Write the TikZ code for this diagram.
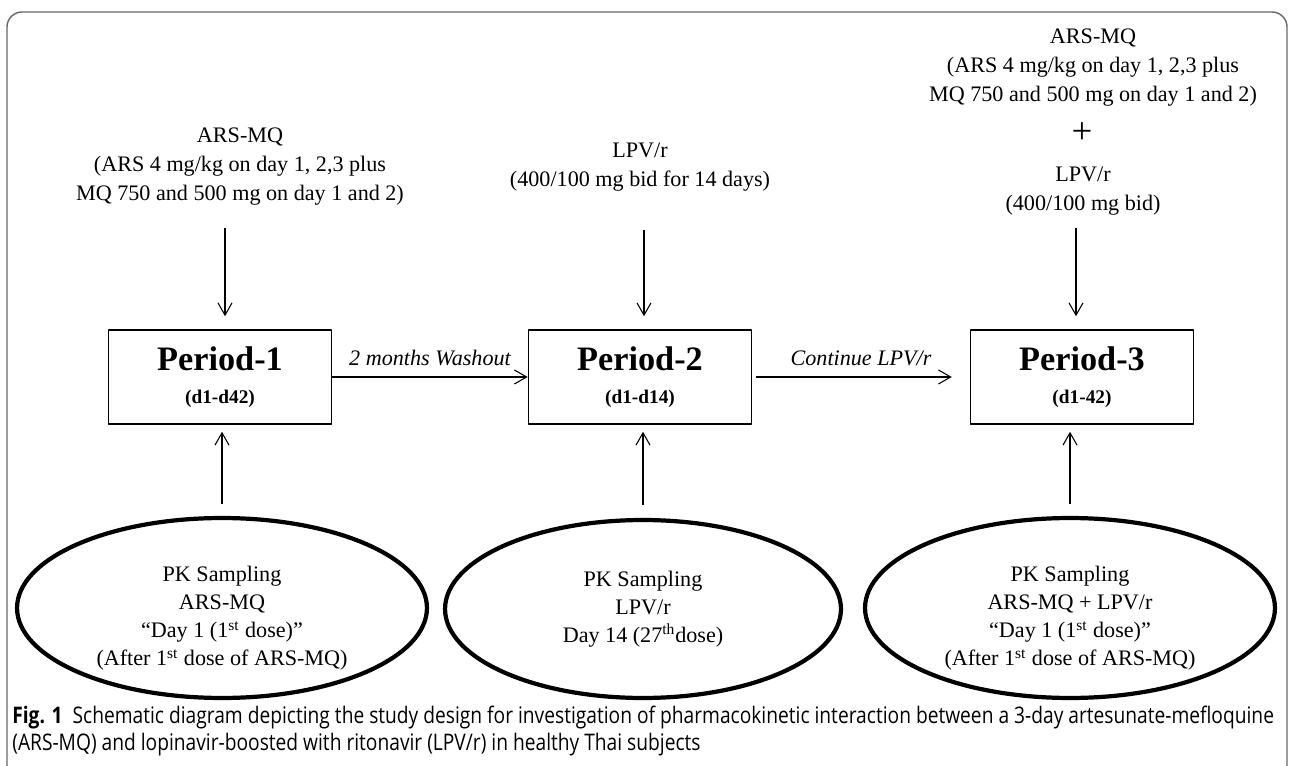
\documentclass[tikz,border=0pt]{standalone}
\usepackage{fontspec}
\setmainfont{Liberation Serif}
\newfontfamily\capfont[FakeStretch=0.84]{Open Sans}
\usetikzlibrary{arrows.meta,shapes.geometric}
\newcommand\lowered[1]{\raisebox{-0.2cm}[\height][\depth]{\begin{tabular}{@{}c@{}}#1\end{tabular}}}
\begin{document}
\begin{tikzpicture}[x=0.02cm,y=-0.02cm,>={Straight Barb[length=7pt,width=8pt]},line join=round,
		dose/.style={align=center,font=\fontsize{12.6}{16.5}\selectfont,inner sep=0pt},
		period/.style={draw,line width=0.9pt,minimum width=4.46cm,minimum height=1.88cm,align=center,font=\bfseries\fontsize{11}{18.8}\selectfont},
		sampling/.style={draw,ellipse,line width=2.4pt,minimum width=8.2cm,minimum height=3.6cm,inner sep=0pt,align=center,font=\fontsize{12.6}{16}\selectfont},
		flow/.style={->,line width=0.6pt}]
	\useasboundingbox (0,0) rectangle (1290,766);
	\draw[black!60,line width=0.8pt,rounded corners=0.3cm] (7,12) rectangle (1287,780);
	% doses given in each period
	\node[dose] (dose1) at (240,167) {ARS-MQ\\(ARS 4 mg/kg on day 1, 2,3 plus\\MQ 750 and 500 mg on day 1 and 2)};
	\node[dose] (dose2) at (640,167) {LPV/r\\(400/100 mg bid for 14 days)};
	\node[dose] (dose3) at (1093,68) {ARS-MQ\\(ARS 4 mg/kg on day 1, 2,3 plus\\MQ 750 and 500 mg on day 1 and 2)};
	\node[dose,font=\fontsize{21}{21}\selectfont] (plus) at (1082,133) {+};
	\node[dose] (lpv3) at (1083,191) {LPV/r\\(400/100 mg bid)};
	% periods
	\node[period] (p1) at (220,377) {{\fontsize{19.5}{18.8}\selectfont Period-1}\\(d1-d42)};
	\node[period] (p2) at (640,377) {{\fontsize{19.5}{18.8}\selectfont Period-2}\\(d1-d14)};
	\node[period] (p3) at (1082,377) {{\fontsize{19.5}{18.8}\selectfont Period-3}\\(d1-42)};
	% PK sampling
	\node[sampling] (s1) at (222,608) {\lowered{PK Sampling\\ARS-MQ\\“Day 1 (1\textsuperscript{st} dose)”\\(After 1\textsuperscript{st} dose of ARS-MQ)}};
	\node[sampling,minimum width=7.92cm,minimum height=3.56cm] (s2) at (643,609) {PK Sampling\\LPV/r\\Day 14 (27\textsuperscript{th}dose)};
	\node[sampling] (s3) at (1070,608) {\lowered{PK Sampling\\ARS-MQ + LPV/r\\“Day 1 (1\textsuperscript{st} dose)”\\(After 1\textsuperscript{st} dose of ARS-MQ)}};
	\coordinate (a1) at (225,228);
	\coordinate (a2) at (644,230);
	\coordinate (a3) at (1076,228);
	\draw[flow,shorten >=0.26cm] (a1) -- (a1 |- p1.north);
	\draw[flow,shorten >=0.26cm] (a2) -- (a2 |- p2.north);
	\draw[flow,shorten >=0.26cm] (a3) -- (a3 |- p3.north);
	\draw[flow] (p1.east) -- (p2.west) node[midway,above=6pt,dose,font=\itshape\fontsize{12.6}{16.5}\selectfont] (wash) {2 months Washout};
	\draw[flow,shorten <=0.08cm,shorten >=0.36cm] (p2.east) -- (p3.west) node[midway,above=6pt,dose,font=\itshape\fontsize{12.6}{16.5}\selectfont] (cont) {Continue LPV/r};
	\draw[flow,shorten <=0.24cm,shorten >=0.14cm] (s1.north) -- (s1.north |- p1.south);
	\draw[flow,shorten <=0.26cm,shorten >=0.14cm] (s2.north) -- (s2.north |- p2.south);
	\draw[flow,shorten <=0.24cm,shorten >=0.14cm] (s3.north) -- (s3.north |- p3.south);
	\node[anchor=west,align=left,inner sep=0pt,font=\capfont\fontsize{13}{14.8}\selectfont] (cap) at (12,731)
		{\textbf{Fig. 1}\ \ Schematic diagram depicting the study design for investigation of pharmacokinetic interaction between a 3-day artesunate-mefloquine\\(ARS-MQ) and lopinavir-boosted with ritonavir (LPV/r) in healthy Thai subjects};
\end{tikzpicture}
\end{document}
